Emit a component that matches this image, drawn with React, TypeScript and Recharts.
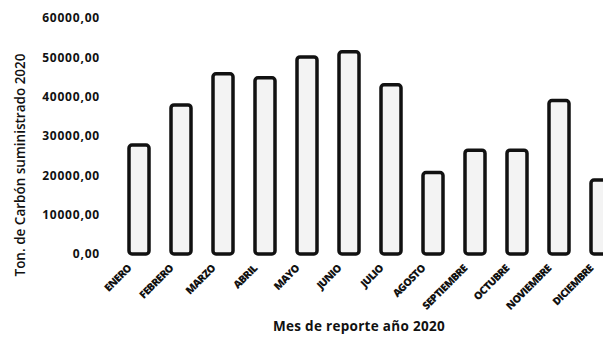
import React from 'react';
import { BarChart, Bar, XAxis, YAxis, Label } from 'recharts';

const months = [
  'ENERO', 'FEBRERO', 'MARZO', 'ABRIL', 'MAYO', 'JUNIO',
  'JULIO', 'AGOSTO', 'SEPTIEMBRE', 'OCTUBRE', 'NOVIEMBRE', 'DICIEMBRE',
];
const tons = [27700, 37900, 45800, 44800, 50100, 51400, 43000, 20700, 26400, 26400, 39000, 18800];
const yTicks = [0, 10000, 20000, 30000, 40000, 50000, 60000];

const data = months.map((m, i) => ({ month: m, tons: tons[i] }));

const fmt = (v: number) => v.toFixed(2).replace('.', ',');

const font = '"Open Sans", "DejaVu Sans", sans-serif';

const MonthTick = (props: any) => {
  const { x, y, payload } = props;
  const tx = x - 7;
  const ty = y + 7;
  return (
    <text
      x={tx}
      y={ty}
      transform={`rotate(-45, ${tx}, ${ty})`}
      textAnchor="end"
      fontFamily={font}
      fontSize={10.5}
      fontWeight={800}
      fill="#111"
      letterSpacing={-0.6}
    >
      {payload.value}
    </text>
  );
};

const YTitle = () => {
  const cx = 20;
  const cy = 165;
  return (
    <text
      x={cx}
      y={cy}
      transform={`rotate(-90, ${cx}, ${cy})`}
      textAnchor="middle"
      dominantBaseline="central"
      fontFamily={font}
      fontSize={13.5}
      fontWeight={600}
      fill="#111"
    >
      Ton. de Carbón suministrado 2020
    </text>
  );
};

const XTitle = () => (
  <text
    x={359}
    y={331}
    textAnchor="middle"
    fontFamily={font}
    fontSize={13.5}
    fontWeight={700}
    fill="#111"
    letterSpacing={0.3}
  >
    Mes de reporte año 2020
  </text>
);

export default function App() {
  return (
    <div style={{ position: 'absolute', left: 0, top: 0, width: 603, height: 337, overflow: 'hidden', background: '#fff' }}>
      <BarChart
        width={640}
        height={337}
        data={data}
        margin={{ top: 18, right: 18, bottom: 23, left: 0 }}
        barCategoryGap={11}
      >
        <XAxis
          dataKey="month"
          axisLine={false}
          tickLine={false}
          interval={0}
          height={60}
          tick={<MonthTick />}
        >
          <Label content={<XTitle />} />
        </XAxis>
        <YAxis
          width={118}
          domain={[0, 60000]}
          ticks={yTicks}
          axisLine={false}
          tickLine={false}
          tickSize={0}
          tickMargin={18}
          tickFormatter={fmt}
          tick={{ fontFamily: font, fontSize: 12, fontWeight: 700, fill: '#111', letterSpacing: 0.8 }}
        >
          <Label content={<YTitle />} />
        </YAxis>
        <Bar
          dataKey="tons"
          fill="#f3f3f3"
          stroke="#111"
          strokeWidth={3.5}
          radius={[3, 3, 3, 3]}
          isAnimationActive={false}
        />
      </BarChart>
    </div>
  );
}
